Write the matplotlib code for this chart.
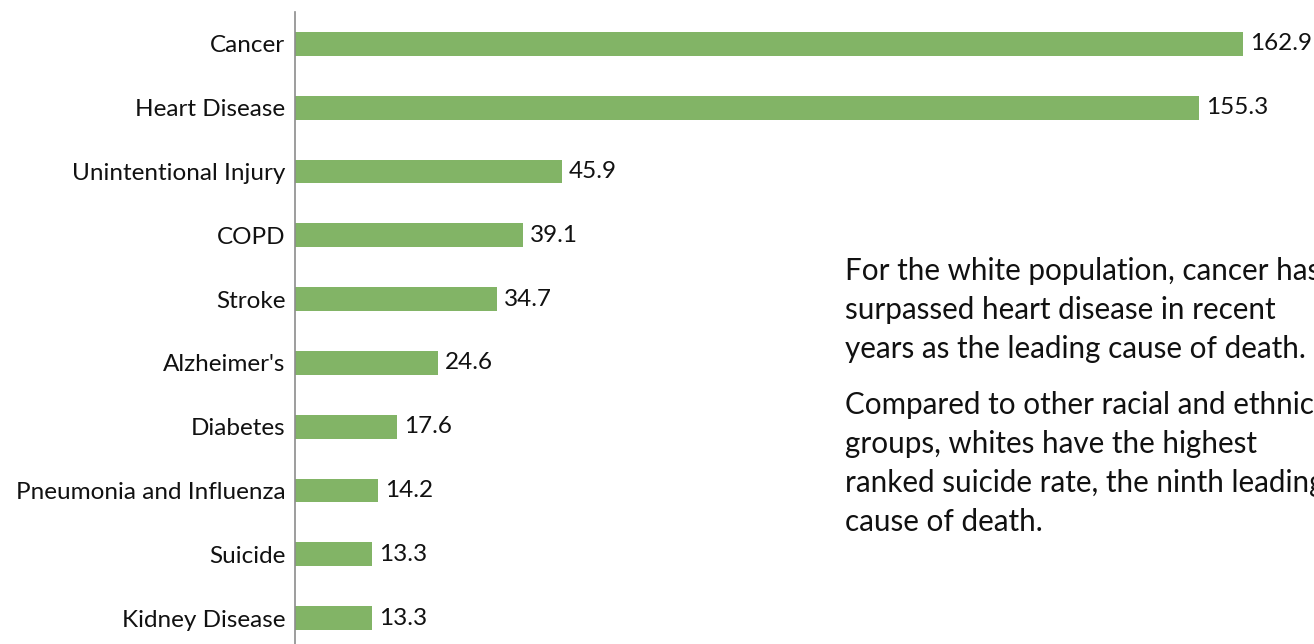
import matplotlib
matplotlib.use("Agg")
import matplotlib.pyplot as plt

causes = ["Cancer", "Heart Disease", "Unintentional Injury", "COPD", "Stroke",
          "Alzheimer's", "Diabetes", "Pneumonia and Influenza", "Suicide", "Kidney Disease"]
rates = [162.9, 155.3, 45.9, 39.1, 34.7, 24.6, 17.6, 14.2, 13.3, 13.3]
note_lines_1 = ["For the white population, cancer has",
                "surpassed heart disease in recent",
                "years as the leading cause of death."]
note_lines_2 = ["Compared to other racial and ethnic",
                "groups, whites have the highest",
                "ranked suicide rate, the ninth leading",
                "cause of death."]

plt.rcParams['font.family'] = ['Lato', 'DejaVu Sans']
W, H = 1314, 644
fig = plt.figure(figsize=(W / 100, H / 100), dpi=100)
ax = fig.add_axes([295 / W, 1 - 650 / H, 1047.6 / W, 638 / H])

pos = list(range(len(causes)))
ax.barh(pos, rates, height=0.375, color="#82B466", zorder=2)
ax.set_ylim(len(causes) - 0.5, -0.5)
ax.set_xlim(0, 180)
ax.set_yticks(pos)
ax.set_yticklabels(causes, fontsize=17.5, color="#111111")
ax.tick_params(axis='y', length=0, pad=7)
ax.set_xticks([])
for s in ["top", "right", "bottom"]:
    ax.spines[s].set_visible(False)
ax.spines["left"].set_color("#8C8C8C")
ax.spines["left"].set_linewidth(1.2)

for p, v in zip(pos, rates):
    ax.annotate(f"{v:.1f}", (v, p), xytext=(5, 0), textcoords="offset points",
                va="center", ha="left", fontsize=17.5, color="#111111")

y = 271
for line in note_lines_1:
    fig.text(845 / W, 1 - y / H, line, fontsize=21.3, va="center", ha="left", color="#111111")
    y += 39
y = 405
for line in note_lines_2:
    fig.text(845 / W, 1 - y / H, line, fontsize=21.3, va="center", ha="left", color="#111111")
    y += 39

fig.savefig("out.png", dpi=100)
